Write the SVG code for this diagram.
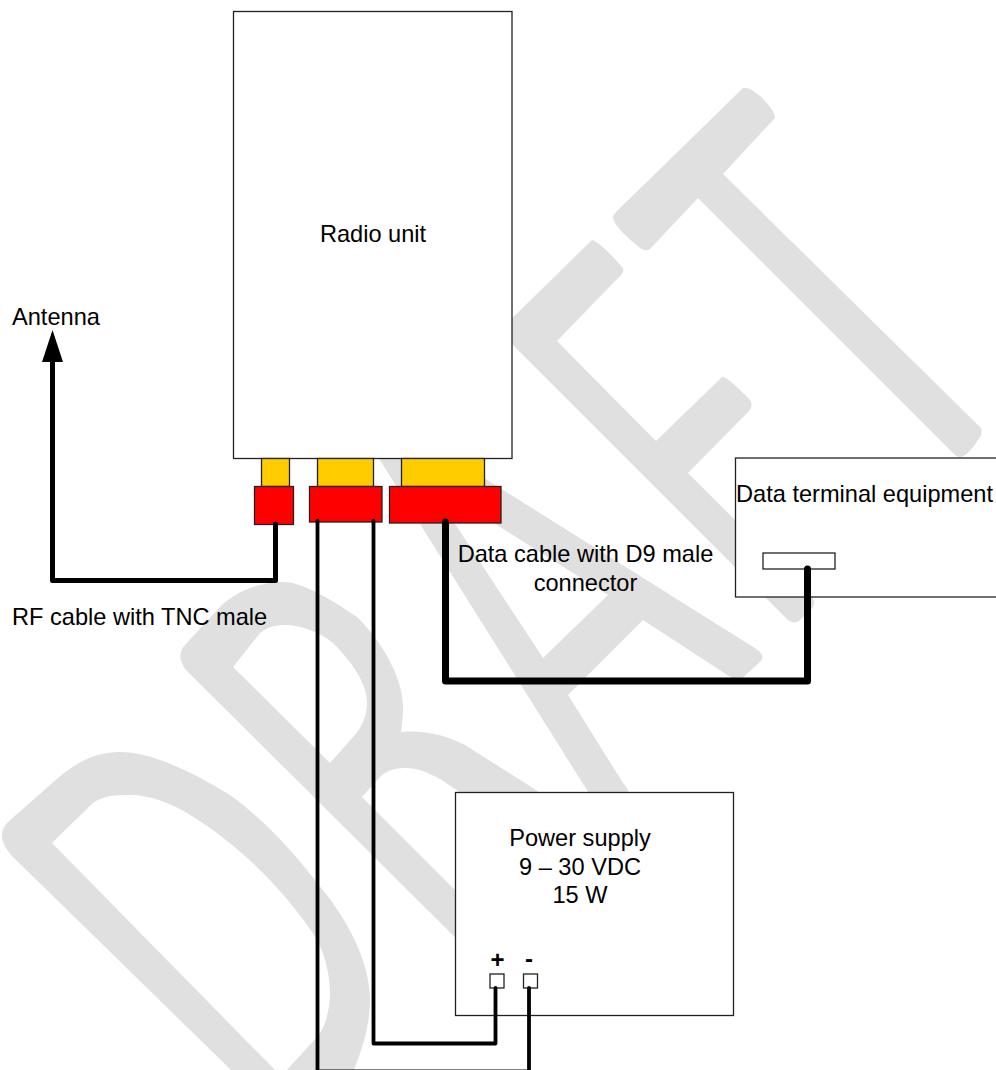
<svg xmlns="http://www.w3.org/2000/svg" width="996" height="1070" viewBox="0 0 996 1070">
<style>
.wm{fill:#e0e0e0;fill-rule:evenodd}
.box{fill:#fff;stroke:#222;stroke-width:1.3}
.y{fill:#ffcc00;stroke:#222;stroke-width:1.3}
.r{fill:#ff0000;stroke:#222;stroke-width:1.3}
.w{fill:none;stroke:#000;stroke-linejoin:round;stroke-linecap:round}
text{font-family:"Liberation Sans",Arial,sans-serif;font-size:23.6px;fill:#000}
.c{text-anchor:middle}
.b{font-weight:bold;font-size:24px}
</style>
<rect width="996" height="1070" fill="#fff"/>
<g id="watermark">
<path class="wm" d="M12,856 Q-6,836 8,822 L50,785 C75,762 95,752 120,752 C150,752 190,770 233,797 C270,825 300,860 317,883 C345,915 370,960 370,1000 C370,1025 362,1050 353,1072 L233,1072 Z M52,843 L93,803 C105,795 115,795 130,795 C150,795 170,803 187,813 C215,830 240,850 260,870 C285,895 305,920 317,940 C325,955 330,975 330,993 C330,1010 325,1028 317,1037 L285,1072 L277,1072 Z"/>
<path class="wm" d="M186,670 Q176,657 184,646 L220,607 C235,592 258,582 283,582 C300,582 325,595 357,617 C385,645 403,680 403,707 C403,715 402,725 401,732 C425,730 445,735 465,745 L533,788 L570,815 L570,900 L500,982 Z M233,667 L260,633 C268,627 275,625 285,625 C300,625 320,632 333,643 C355,665 367,685 367,703 C367,715 362,728 353,737 L330,763 Z M362,797 L380,777 C388,770 395,768 407,768 C422,768 440,778 455,789 L470,800 L470,905 L455,890 Z"/>
<path class="wm" d="M336,390 L484,478 L750,645 Q768,655 760,662 L738,682 L643,620 L568,695 L623,783 Q630,790 628,795 L590,795 Z M427,481 L608,595 L543,658 Z"/>
<path class="wm" d="M592,240 Q600,242 623,268 Q624,273 620,276 L557,341 L656,441 L722,377 Q727,376 750,400 Q753,405 750,410 L688,473 L813,598 Q816,606 810,610 L800,620 Q795,625 788,620 L513,345 L500,330 Z"/>
<path class="wm" d="M743,88 Q748,86 760,96 Q775,110 775,118 L723,174 L981,428 Q983,435 978,440 Q968,456 960,457 Q957,457 953,453 L698,198 L650,249 Q646,252 640,248 Q615,228 613,218 Q613,215 616,212 Z"/>
</g>
<g id="radio-unit">
<rect class="box" x="233.5" y="11.5" width="278.5" height="447"/>
<text class="c" x="373" y="242">Radio unit</text>
</g>
<g id="rf-connector">
<rect class="y" x="261.5" y="458.5" width="28" height="28"/>
<rect class="r" x="254.5" y="486.5" width="39" height="38"/>
</g>
<g id="power-connector">
<rect class="y" x="317.5" y="458.5" width="56" height="28"/>
<rect class="r" x="309.5" y="486.5" width="72.5" height="35.5"/>
</g>
<g id="data-connector">
<rect class="y" x="401.5" y="458.5" width="83" height="28"/>
<rect class="r" x="389.5" y="486.5" width="111.5" height="36.5"/>
</g>
<g id="data-terminal">
<rect class="box" x="735.5" y="458" width="280" height="139"/>
<rect class="box" x="763" y="553" width="72" height="16"/>
<text x="736" y="502">Data terminal equipment</text>
</g>
<g id="power-supply">
<rect class="box" x="455.5" y="792.5" width="278" height="223"/>
<rect class="box" x="490" y="974" width="14" height="14"/>
<rect class="box" x="523.5" y="974" width="14" height="14"/>
<text class="c" x="580" y="846">Power supply</text>
<text class="c" x="580" y="875">9 – 30 VDC</text>
<text class="c" x="580" y="903">15 W</text>
<text class="b c" x="497.5" y="968">+</text>
<text class="b c" x="529" y="967">-</text>
</g>
<g id="connectors">
<path class="w" stroke-width="5" d="M275.5,524 V580.5 H52.5 V355"/>
<path d="M52.5,330 L42,362 H63 Z" fill="#000"/>
<path class="w" stroke-width="3.8" d="M317.5,521 V1071.5 H529 V988"/>
<path class="w" stroke-width="3.8" d="M373.5,521 V1043.5 H495.5 V988"/>
<path class="w" stroke-width="7" d="M445.5,522 V681 H807.5 V569"/>
</g>
<g id="labels">
<text x="12" y="325">Antenna</text>
<text x="12" y="625">RF cable with TNC male</text>
<text class="c" x="585.5" y="562">Data cable with D9 male</text>
<text class="c" x="585.5" y="591">connector</text>
</g>
</svg>
